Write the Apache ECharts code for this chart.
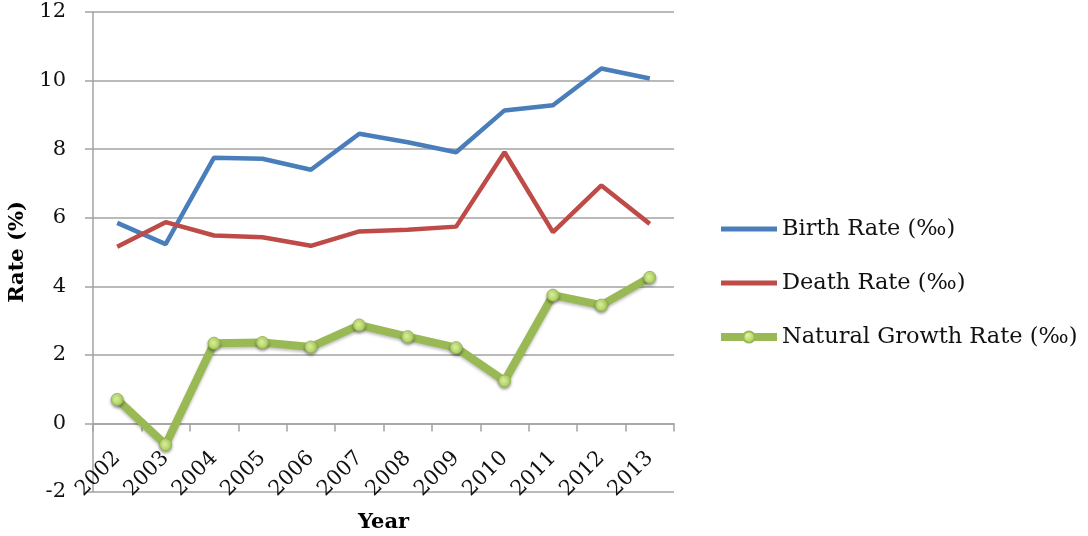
<!DOCTYPE html>
<html>
<head>
<meta charset="utf-8">
<script src="https://cdn.jsdelivr.net/npm/echarts@6/dist/echarts.min.js"></script>
<style>
html,body{margin:0;padding:0;background:#fff;}
#chart{width:1088px;height:536px;}
</style>
</head>
<body>
<div id="chart"></div>
<script>
var years = ['2002','2003','2004','2005','2006','2007','2008','2009','2010','2011','2012','2013'];
var birthRate = [5.85, 5.23, 7.75, 7.72, 7.40, 8.45, 8.20, 7.91, 9.13, 9.28, 10.35, 10.06];
var deathRate = [5.15, 5.87, 5.48, 5.43, 5.18, 5.60, 5.65, 5.74, 7.91, 5.58, 6.94, 5.82];
var naturalGrowth = [0.70, -0.62, 2.34, 2.36, 2.23, 2.87, 2.53, 2.21, 1.24, 3.74, 3.45, 4.26];
var seriesNames = ['Birth Rate (‰)', 'Death Rate (‰)', 'Natural Growth Rate (‰)'];
var yTicks = {min: -2, max: 12, interval: 2};

var FONT = 'DejaVu Serif';
var GRAY = '#a3a3a3';
var BAR_ICON = 'path://M0,0H56V5H0Z';
var chart = echarts.init(document.getElementById('chart'), null, {renderer: 'canvas'});
chart.setOption({
  animation: false,
  backgroundColor: '#fff',
  grid: {left: 93, right: 414, top: 12, bottom: 44, containLabel: false, outerBoundsMode: 'none'},
  legend: {
    orient: 'vertical',
    left: 717,
    top: 217,
    padding: 0,
    itemWidth: 56,
    itemHeight: 14,
    itemGap: 30,
    textStyle: {fontFamily: FONT, fontSize: 22.5, color: '#111', lineHeight: 24},
    lineStyle: {width: 'inherit'},
    data: [
      {name: seriesNames[0], icon: BAR_ICON},
      {name: seriesNames[1], icon: BAR_ICON},
      {name: seriesNames[2]}
    ]
  },
  xAxis: {
    type: 'category',
    data: years,
    boundaryGap: true,
    name: 'Year',
    nameLocation: 'middle',
    nameGap: 20,
    nameTextStyle: {fontFamily: FONT, fontSize: 21, fontWeight: 'bold', color: '#000'},
    axisLine: {show: true, onZero: true, lineStyle: {color: GRAY, width: 1.5}},
    axisTick: {show: true, length: 8, interval: 0, lineStyle: {color: GRAY, width: 1.5}},
    axisLabel: {rotate: 45, margin: -37, interval: 0, fontFamily: FONT, fontSize: 21, color: '#111'}
  },
  yAxis: {
    type: 'value',
    min: yTicks.min,
    max: yTicks.max,
    interval: yTicks.interval,
    name: 'Rate (%)',
    nameLocation: 'middle',
    nameGap: 63,
    nameTextStyle: {fontFamily: FONT, fontSize: 21, fontWeight: 'bold', color: '#000'},
    axisLine: {show: true, onZero: false, lineStyle: {color: GRAY, width: 1.5}},
    axisTick: {show: true, length: 8, lineStyle: {color: GRAY, width: 1.5}},
    axisLabel: {margin: 27, fontFamily: FONT, fontSize: 21, color: '#111'},
    splitLine: {show: true, lineStyle: {color: GRAY, width: 1.5}}
  },
  series: [
    {
      name: seriesNames[0],
      type: 'line',
      data: birthRate,
      symbol: 'none',
      lineStyle: {color: '#4a7ebb', width: 4.5},
      itemStyle: {color: '#4a7ebb'}
    },
    {
      name: seriesNames[1],
      type: 'line',
      data: deathRate,
      symbol: 'none',
      lineStyle: {color: '#be4b48', width: 4.5},
      itemStyle: {color: '#be4b48'}
    },
    {
      name: seriesNames[2],
      type: 'line',
      data: naturalGrowth,
      symbol: 'circle',
      symbolSize: 12,
      lineStyle: {color: '#98b954', width: 8, shadowColor: 'rgba(0,0,0,0.25)', shadowBlur: 3, shadowOffsetY: 2},
      itemStyle: {
        color: new echarts.graphic.RadialGradient(0.4, 0.35, 0.7, [
          {offset: 0, color: '#dff59e'},
          {offset: 1, color: '#a6cc55'}
        ]),
        borderColor: '#98b954',
        borderWidth: 1,
        shadowColor: 'rgba(0,0,0,0.35)',
        shadowBlur: 3,
        shadowOffsetY: 2
      },
      z: 3
    }
  ]
});
</script>
</body>
</html>
